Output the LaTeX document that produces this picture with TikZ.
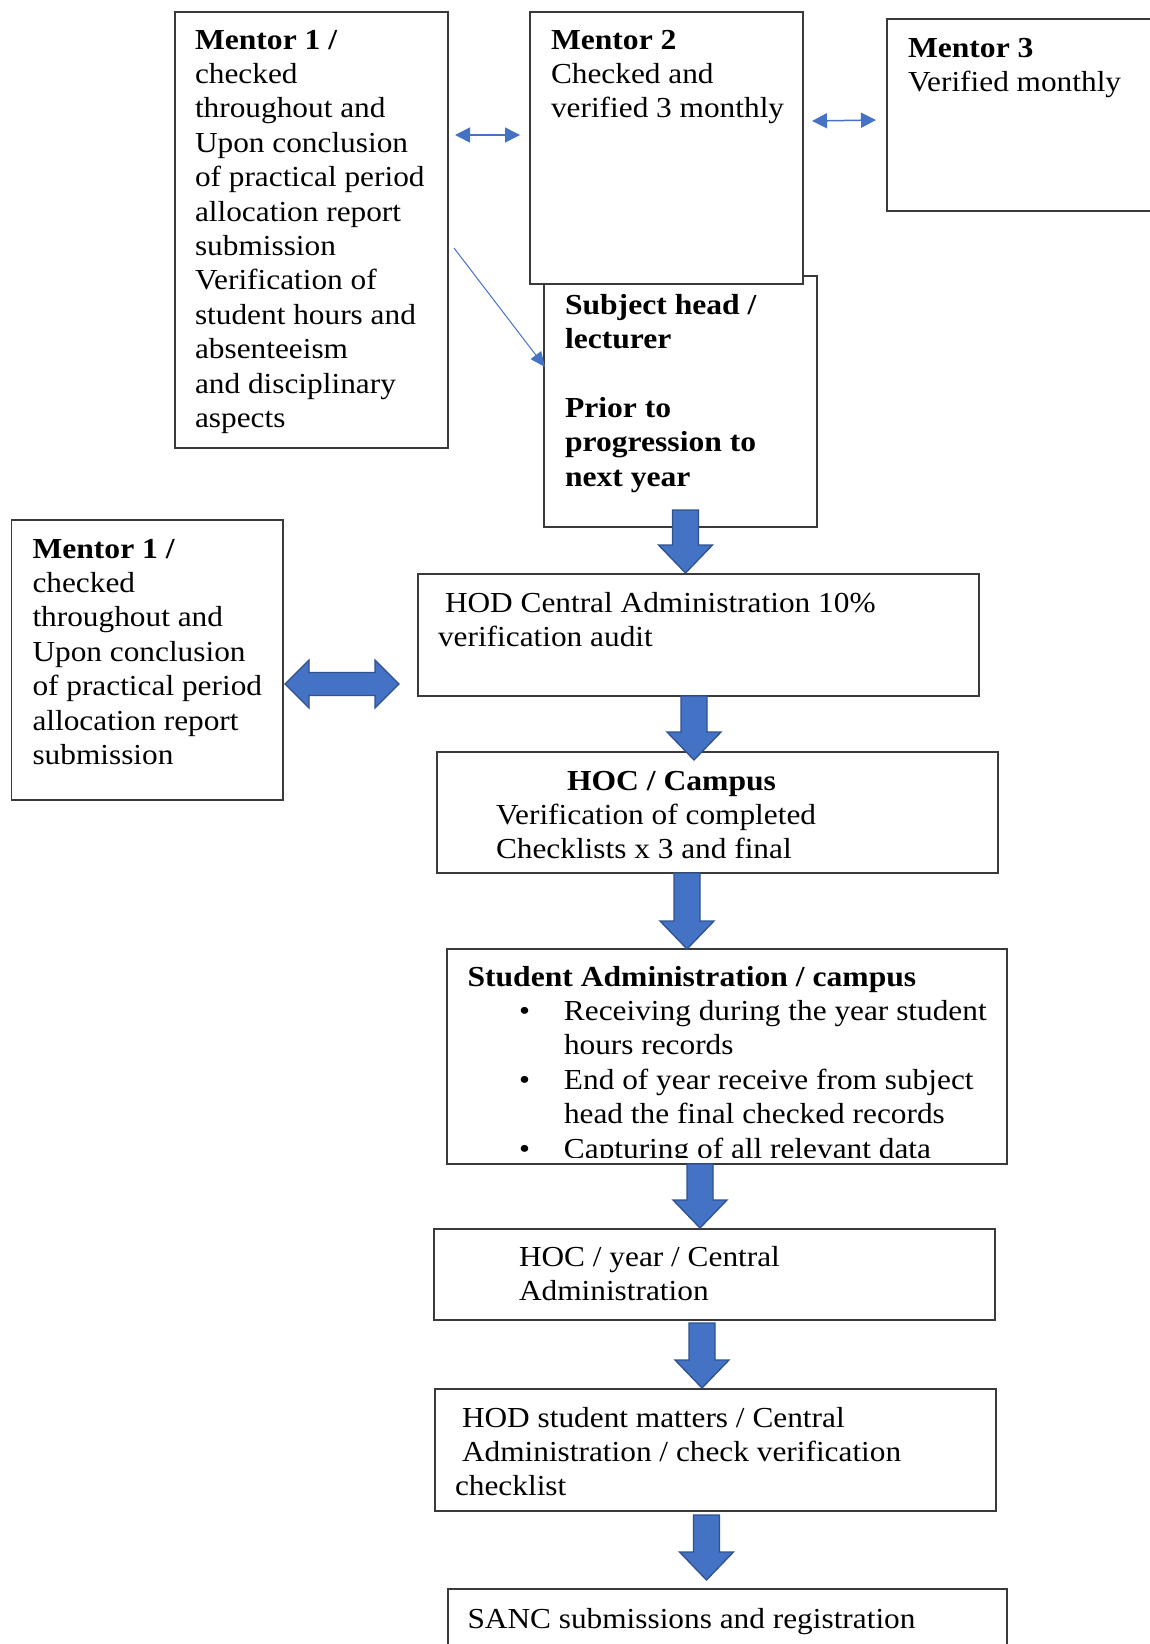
\documentclass[tikz,border=0pt]{standalone}
\usepackage{fontspec}
\setmainfont{Liberation Serif}[FakeStretch=1.08,BoldFeatures={FakeStretch=1.09}]
\usetikzlibrary{calc,arrows.meta}
\definecolor{ablue}{HTML}{4472C4}
\definecolor{aedge}{HTML}{2F528F}
\definecolor{boxline}{HTML}{3A3A3A}
\newcommand{\fr}{\rule{0pt}{24pt}}
\newcommand{\dnblk}[3]{\filldraw[blk] ({#1-13},#2) -- ({#1+13},#2) -- ({#1+13},{#3-28}) -- ({#1+27},{#3-28}) -- (#1,#3) -- ({#1-27},{#3-28}) -- ({#1-13},{#3-28}) -- cycle;}
\begin{document}
\begin{tikzpicture}[x=1pt,y=-1pt,
  box/.style={draw=boxline,line width=1.1pt,fill=white,anchor=north west,inner sep=0pt,outer sep=0pt},
  txt/.style={anchor=north west,inner sep=0pt,outer sep=0pt,align=left,font=\fontsize{29}{34.4}\selectfont},
  blk/.style={fill=ablue,draw=aedge,line width=1.3pt,line join=miter},
  thinarr/.style={draw=ablue,line width=1.5pt,{Triangle[length=15pt,width=15pt]}-{Triangle[length=15pt,width=15pt]}},
  diagarr/.style={draw=ablue,line width=1pt,-{Triangle[length=15pt,width=13pt]}},
]
\useasboundingbox[fill=white] (0,0) rectangle (1150,1644);

% boxes
\node[box,minimum width=273pt,minimum height=436pt] (m1) at (175,12) {};
\node[box,minimum width=273pt,minimum height=251pt] (subj) at (544,276) {};
\node[box,minimum width=273pt,minimum height=272pt] (m2) at (530,12) {};
\node[box,minimum width=280pt,minimum height=192pt] (m3) at (887,19) {};
\node[box,minimum width=561pt,minimum height=122pt] (hod) at (418,574) {};
\node[box,minimum width=271.5pt,minimum height=280pt] (lm1) at (11.5,520) {};
\node[box,minimum width=561pt,minimum height=121pt] (hoc) at (437,752) {};
\node[box,minimum width=560pt,minimum height=215pt] (stu) at (447,949) {};
\node[box,minimum width=561pt,minimum height=91pt] (hocy) at (434,1229) {};
\node[box,minimum width=561pt,minimum height=122pt] (hodsm) at (435,1389) {};
\node[box,minimum width=559pt,minimum height=80pt] (sanc) at (448,1589) {};

% texts
\node[txt] (m1t) at (195,25) {\fr\textbf{Mentor 1 /}\\checked\\throughout and\\Upon conclusion\\of practical period\\allocation report\\submission\\Verification of\\student hours and\\absenteeism\\and disciplinary\\aspects};
\node[txt] (m2t) at (551,25) {\fr\textbf{Mentor 2}\\Checked and\\verified 3 monthly};
\node[txt] (m3t) at (908,33) {\fr\textbf{Mentor 3}\\Verified monthly};
\node[txt] (subjt) at (565,290) {\fr\textbf{Subject head /}\\\textbf{lecturer}\\\strut\\\textbf{Prior to}\\\textbf{progression to}\\\textbf{next year}};
\node[txt] (hodt) at (438,588) {\fr\hspace*{7pt}HOD Central Administration 10\%\\verification audit};
\node[txt] (lm1t) at (32.5,534) {\fr\textbf{Mentor 1 /}\\checked\\throughout and\\Upon conclusion\\of practical period\\allocation report\\submission};
\node[txt] (hoct) at (496,766) {\fr\hspace*{71pt}\textbf{HOC / Campus}\\Verification of completed\\Checklists x 3 and final};
\begin{scope}
\clip (447,949) rectangle (1007,1157);
\node[txt] (stut) at (467.5,962) {\fr\textbf{Student Administration / campus}\\
\hspace*{51.5pt}\makebox[45pt][l]{•}Receiving during the year student\\
\hspace*{96.5pt}hours records\\
\hspace*{51.5pt}\makebox[45pt][l]{•}End of year receive from subject\\
\hspace*{96.5pt}head the final checked records\\
\hspace*{51.5pt}\makebox[45pt][l]{•}Capturing of all relevant data};
\end{scope}
\node[txt] (hocyt) at (519,1242) {\fr HOC / year / Central\\Administration};
\node[txt] (hodsmt) at (455,1403) {\fr\hspace*{7pt}HOD student matters / Central\\\hspace*{7pt}Administration / check verification\\checklist};
\node[txt] (sanct) at (467.5,1604) {\fr SANC submissions and registration};

% thin connectors
\draw[thinarr] ($(m1.north east)+(7,123)$) -- ($(m2.north west)+(-10,123)$);
\draw[thinarr] ($(m2.north east)+(9,109)$) -- ($(m3.north west)+(-11,101)$);
\draw[diagarr] ($(m1.north east)+(6,236)$) -- ($(subj.north west)+(1,91)$);

% block arrows
\dnblk{685.5}{510}{573}
\dnblk{694}{696}{760}
\dnblk{687}{873}{949}
\dnblk{700}{1164}{1228}
\dnblk{702}{1323}{1388}
\dnblk{706.5}{1515}{1580}
\filldraw[blk] (285,684) -- (309,660) -- (309,672.5) -- (375,672.5) -- (375,660) -- (399,684) -- (375,708) -- (375,695.5) -- (309,695.5) -- (309,708) -- cycle;
\end{tikzpicture}
\end{document}
